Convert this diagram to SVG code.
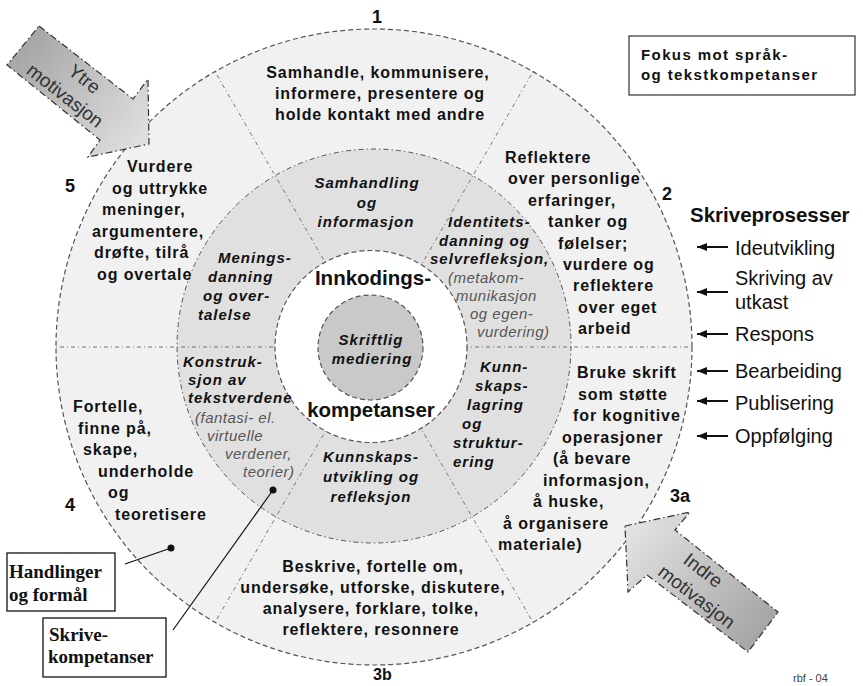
<svg xmlns="http://www.w3.org/2000/svg" width="863" height="686" viewBox="0 0 863 686">
<defs>
<style>
.o{font-family:"Liberation Sans",Arial,sans-serif;font-weight:bold;font-size:16px;letter-spacing:0.9px;fill:#111}
.m{font-family:"Liberation Sans",Arial,sans-serif;font-weight:bold;font-style:italic;font-size:15px;letter-spacing:1px;fill:#111}
.g{font-family:"Liberation Sans",Arial,sans-serif;font-style:italic;font-size:15px;letter-spacing:0.5px;fill:#555}
.n{font-family:"Liberation Sans",Arial,sans-serif;font-weight:bold;font-size:18px;fill:#111}
.c{font-family:"Liberation Sans",Arial,sans-serif;font-weight:bold;font-size:20.5px;fill:#111}
.p{font-family:"Liberation Sans",Arial,sans-serif;font-size:20px;fill:#111}
.mv{font-family:"Liberation Sans",Arial,sans-serif;font-size:19px;fill:#333}
.b{font-family:"Liberation Serif","Times New Roman",serif;font-weight:bold;font-size:19px;fill:#111}
.mid{text-anchor:middle}
.dash{fill:none;stroke:#555;stroke-width:1.2;stroke-dasharray:5 3}
.dd{fill:none;stroke:#555;stroke-width:1;stroke-dasharray:5 3 1.5 3}
.dv{fill:none;stroke:#666;stroke-width:0.9;stroke-dasharray:4 3 1 3}
.arr{stroke:#333;stroke-width:1.2;stroke-dasharray:7 3 1.5 3}
.pa{stroke:#111;stroke-width:2;marker-end:url(#ah)}
.lead{stroke:#111;stroke-width:1.2}
</style>
<linearGradient id="gYtre" gradientUnits="userSpaceOnUse" x1="20" y1="40" x2="140" y2="140"><stop offset="0" stop-color="#a4a4a4"/><stop offset="1" stop-color="#dedede"/></linearGradient>
<linearGradient id="gIndre" gradientUnits="userSpaceOnUse" x1="630" y1="530" x2="765" y2="635"><stop offset="0" stop-color="#e2e2e2"/><stop offset="1" stop-color="#a4a4a4"/></linearGradient>
<marker id="ah" viewBox="0 0 10 8" refX="10" refY="4" markerWidth="5" markerHeight="4" orient="auto"><path d="M0,0 L10,4 L0,8 z" fill="#111"/></marker>
</defs>
<rect width="863" height="686" fill="#fff"/>

<g id="ring">
<circle cx="374" cy="347" r="318" class="dash" style="fill:#f1f1f1"/>
<circle cx="374" cy="346" r="197" style="fill:#e0e0e0" class="dd"/>
<g class="dv">
<line x1="419" y1="269" x2="533" y2="71.6"/>
<line x1="329" y1="269" x2="215" y2="71.6"/>
<line x1="464" y1="347" x2="692" y2="347"/>
<line x1="284" y1="347" x2="56" y2="347"/>
<line x1="419" y1="425" x2="533" y2="622.4"/>
<line x1="329" y1="425" x2="215" y2="622.4"/>
</g>
<circle cx="371" cy="346.5" r="96" style="fill:#fff" class="dash"/>
<circle cx="370.5" cy="347.5" r="52.5" style="fill:#c9c9c9" class="dash"/>
</g>

<g id="numbers">
<text class="n mid" x="377" y="23">1</text>
<text class="n" x="662" y="200">2</text>
<text class="n" x="670" y="502">3a</text>
<text class="n" x="373" y="680" style="font-size:16px">3b</text>
<text class="n" x="65" y="511">4</text>
<text class="n" x="65" y="192">5</text>
</g>

<g id="sector-1">
<text class="o mid" x="378" y="78">Samhandle, kommunisere,</text>
<text class="o mid" x="380" y="99">informere, presentere og</text>
<text class="o mid" x="380" y="120">holde kontakt med andre</text>
</g>

<g id="sector-2">
<text class="o" x="505" y="163">Reflektere</text>
<text class="o" x="508" y="184.4">over personlige</text>
<text class="o" x="528" y="205.8">erfaringer,</text>
<text class="o" x="548" y="227.2">tanker og</text>
<text class="o" x="558" y="248.6">følelser;</text>
<text class="o" x="563" y="270">vurdere og</text>
<text class="o" x="573" y="291.4">reflektere</text>
<text class="o" x="578" y="312.8">over eget</text>
<text class="o" x="578" y="334.2">arbeid</text>
</g>

<g id="sector-3a">
<text class="o" x="577" y="378">Bruke skrift</text>
<text class="o" x="578" y="399.5">som støtte</text>
<text class="o" x="573" y="421">for kognitive</text>
<text class="o" x="562" y="442.5">operasjoner</text>
<text class="o" x="553" y="464">(å bevare</text>
<text class="o" x="543" y="485.5">informasjon,</text>
<text class="o" x="533" y="507">å huske,</text>
<text class="o" x="503" y="528.5">å organisere</text>
<text class="o" x="498" y="550">materiale)</text>
</g>

<g id="sector-3b">
<text class="o mid" x="373" y="572">Beskrive, fortelle om,</text>
<text class="o mid" x="373" y="593">undersøke, utforske, diskutere,</text>
<text class="o mid" x="371" y="614">analysere, forklare, tolke,</text>
<text class="o mid" x="371" y="635">reflektere, resonnere</text>
</g>

<g id="sector-4">
<text class="o" x="73" y="412">Fortelle,</text>
<text class="o" x="78" y="433.5">finne på,</text>
<text class="o" x="83" y="455">skape,</text>
<text class="o" x="98" y="476.5">underholde</text>
<text class="o" x="108" y="498">og</text>
<text class="o" x="115" y="519.5">teoretisere</text>
</g>

<g id="sector-5">
<text class="o" x="127" y="172">Vurdere</text>
<text class="o" x="112" y="193.5">og uttrykke</text>
<text class="o" x="102" y="215">meninger,</text>
<text class="o" x="92" y="236.5">argumentere,</text>
<text class="o" x="94" y="258">drøfte, tilrå</text>
<text class="o" x="97" y="279.5">og overtale</text>
</g>

<g id="mid-samhandling">
<text class="m mid" x="367" y="188">Samhandling</text>
<text class="m mid" x="367" y="207.5">og</text>
<text class="m mid" x="366" y="227">informasjon</text>
</g>

<g id="mid-identitet">
<text class="m" x="448" y="227">Identitets-</text>
<text class="m" x="439" y="245.5">danning og</text>
<text class="m" x="430" y="264">selvrefleksjon,</text>
<text class="g" x="448" y="283">(metakom-</text>
<text class="g" x="456" y="301">munikasjon</text>
<text class="g" x="470" y="319">og egen-</text>
<text class="g" x="477" y="337">vurdering)</text>
</g>

<g id="mid-kunnskapslagring">
<text class="m" x="480" y="372">Kunn-</text>
<text class="m" x="475" y="391">skaps-</text>
<text class="m" x="467" y="410">lagring</text>
<text class="m" x="462" y="429">og</text>
<text class="m" x="453" y="448">struktur-</text>
<text class="m" x="453" y="467">ering</text>
</g>

<g id="mid-kunnskapsutvikling">
<text class="m mid" x="371" y="462">Kunnskaps-</text>
<text class="m mid" x="371" y="482">utvikling og</text>
<text class="m mid" x="371" y="502">refleksjon</text>
</g>

<g id="mid-konstruksjon">
<text class="m" x="183" y="367">Konstruk-</text>
<text class="m" x="188" y="385">sjon av</text>
<text class="m" x="188" y="403">tekstverdene</text>
<text class="g" x="195" y="423">(fantasi- el.</text>
<text class="g" x="207" y="441">virtuelle</text>
<text class="g" x="225" y="459">verdener,</text>
<text class="g" x="243" y="477">teorier)</text>
</g>

<g id="mid-meningsdanning">
<text class="m" x="218" y="263">Menings-</text>
<text class="m" x="208" y="282">danning</text>
<text class="m" x="203" y="301">og over-</text>
<text class="m" x="198" y="320">talelse</text>
</g>

<g id="center">
<text class="c mid" x="373" y="285">Innkodings-</text>
<text class="c mid" x="371" y="417">kompetanser</text>
<text class="m mid" x="371" y="345">Skriftlig</text>
<text class="m mid" x="372" y="364">mediering</text>
</g>

<g id="arrow-ytre">
<polygon points="39,26 133,99 148,79 149,144 88,157 100,140 7,65" fill="url(#gYtre)" class="arr"/>
<g transform="translate(23,45.5) rotate(38)">
<text class="mv mid" x="69" y="-5">Ytre</text>
<text class="mv mid" x="64" y="20">motivasjon</text>
</g>
</g>

<g id="arrow-indre">
<polygon points="625,526 690,512 675,530 778,612 748,652 647,575 628,592" fill="url(#gIndre)" class="arr"/>
<g transform="translate(625,526) rotate(37.5)">
<text class="mv mid" x="89" y="-6">Indre</text>
<text class="mv mid" x="100" y="19">motivasjon</text>
</g>
</g>

<g id="box-fokus">
<rect x="629" y="36" width="226" height="59" fill="#fff" stroke="#333" stroke-width="1.2"/>
<text class="o" x="641" y="60" style="font-size:15px;letter-spacing:1.4px">Fokus mot språk-</text>
<text class="o" x="641" y="80" style="font-size:15px;letter-spacing:1.4px">og tekstkompetanser</text>
</g>

<g id="skriveprosesser">
<text class="p" x="690" y="222" style="font-weight:bold;font-size:20.5px">Skriveprosesser</text>
<text class="p" x="735" y="255">Ideutvikling</text>
<text class="p" x="735" y="285">Skriving av</text>
<text class="p" x="735" y="309">utkast</text>
<text class="p" x="735" y="341">Respons</text>
<text class="p" x="735" y="378">Bearbeiding</text>
<text class="p" x="735" y="410">Publisering</text>
<text class="p" x="735" y="443">Oppfølging</text>
</g>

<g id="box-handlinger">
<rect x="7" y="553" width="108" height="58" fill="#fff" stroke="#111" stroke-width="1.3"/>
<text class="b" x="9" y="578">Handlinger</text>
<text class="b" x="9" y="601">og formål</text>
</g>

<g id="box-skrive">
<rect x="43" y="618" width="123" height="59" fill="#fff" stroke="#111" stroke-width="1.3"/>
<text class="b" x="49" y="641">Skrive-</text>
<text class="b" x="48" y="663">kompetanser</text>
</g>

<g id="connectors">
<line class="lead" x1="125" y1="564" x2="171" y2="548"/>
<circle cx="171" cy="548" r="3.5" fill="#111"/>
<line class="lead" x1="173" y1="630" x2="273" y2="490"/>
<circle cx="273" cy="490" r="3.5" fill="#111"/>
<line class="pa" x1="728" y1="247" x2="697" y2="247"/>
<line class="pa" x1="728" y1="292" x2="697" y2="292"/>
<line class="pa" x1="728" y1="334" x2="697" y2="334"/>
<line class="pa" x1="728" y1="371" x2="697" y2="371"/>
<line class="pa" x1="728" y1="401" x2="697" y2="401"/>
<line class="pa" x1="728" y1="436" x2="697" y2="436"/>
</g>

<text x="793" y="682" style="font-family:'Liberation Sans',Arial,sans-serif;font-size:11px;fill:#444">rbf - 04</text>
</svg>
